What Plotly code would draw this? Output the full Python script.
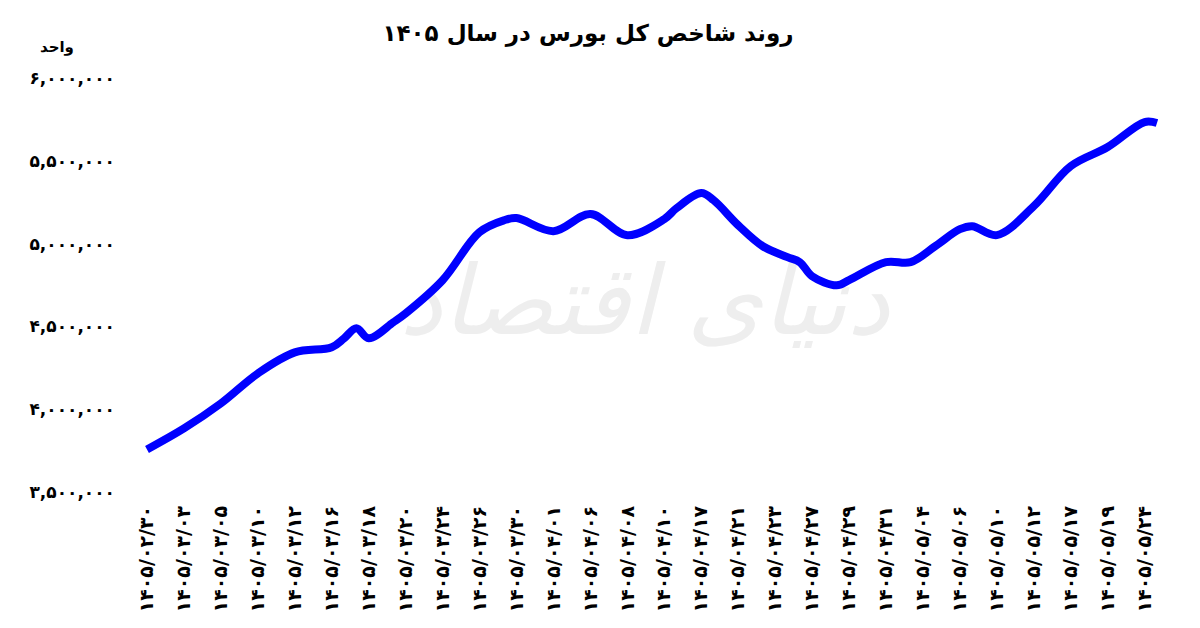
import plotly.graph_objects as go

# tick labels (every 3rd trading day)
date_labels = [
    "۱۴۰۵/۰۲/۳۰", "۱۴۰۵/۰۳/۰۳", "۱۴۰۵/۰۳/۰۵", "۱۴۰۵/۰۳/۱۰", "۱۴۰۵/۰۳/۱۲",
    "۱۴۰۵/۰۳/۱۶", "۱۴۰۵/۰۳/۱۸", "۱۴۰۵/۰۳/۲۰", "۱۴۰۵/۰۳/۲۴", "۱۴۰۵/۰۳/۲۶",
    "۱۴۰۵/۰۳/۳۰", "۱۴۰۵/۰۴/۰۱", "۱۴۰۵/۰۴/۰۶", "۱۴۰۵/۰۴/۰۸", "۱۴۰۵/۰۴/۱۰",
    "۱۴۰۵/۰۴/۱۷", "۱۴۰۵/۰۴/۲۱", "۱۴۰۵/۰۴/۲۳", "۱۴۰۵/۰۴/۲۷", "۱۴۰۵/۰۴/۲۹",
    "۱۴۰۵/۰۴/۳۱", "۱۴۰۵/۰۵/۰۴", "۱۴۰۵/۰۵/۰۶", "۱۴۰۵/۰۵/۱۰", "۱۴۰۵/۰۵/۱۲",
    "۱۴۰۵/۰۵/۱۷", "۱۴۰۵/۰۵/۱۹", "۱۴۰۵/۰۵/۲۴",
]
label_day_index = [i * 3 for i in range(len(date_labels))]

# trading-day index and index value
day_index = [0, 3, 6, 9, 12, 15, 16, 17, 18, 20, 21, 24, 27, 29, 30, 33, 36, 39,
             42, 43, 45, 46, 48, 50, 52, 53, 54, 56, 57, 60, 62, 64, 66, 67, 69,
             72, 75, 78, 81, 82]
index_value = [3757000, 3884000, 4035000, 4216000, 4343000, 4374000, 4428000,
               4489000, 4428000, 4525000, 4579000, 4779000, 5069000, 5141000,
               5154000, 5075000, 5178000, 5051000, 5148000, 5214000, 5305000,
               5262000, 5111000, 4984000, 4918000, 4888000, 4803000, 4748000,
               4779000, 4888000, 4888000, 4985000, 5087000, 5105000, 5051000,
               5226000, 5468000, 5583000, 5734000, 5728000]

y_tick_vals = [3500000, 4000000, 4500000, 5000000, 5500000, 6000000]
y_tick_text = ["۳,۵۰۰,۰۰۰", "۴,۰۰۰,۰۰۰", "۴,۵۰۰,۰۰۰", "۵,۰۰۰,۰۰۰", "۵,۵۰۰,۰۰۰", "۶,۰۰۰,۰۰۰"]

title_text = "روند شاخص کل بورس در سال ۱۴۰۵"
unit_text = "واحد"
watermark_text = "دنیای اقتصاد"

FONT = "DejaVu Sans"

fig = go.Figure()

# watermark (drawn beneath the line)
fig.add_trace(go.Scatter(
    x=[40.4], y=[4600000], mode="text", text=[watermark_text],
    textfont=dict(family=FONT, size=96, color="#eeeeee", style="italic"),
    hoverinfo="skip", showlegend=False,
))

fig.add_trace(go.Scatter(
    x=day_index, y=index_value, mode="lines",
    line=dict(color="#0000ff", width=8, shape="spline", smoothing=1.0),
    showlegend=False,
))

fig.update_layout(
    width=1200, height=628,
    paper_bgcolor="white", plot_bgcolor="white",
    margin=dict(l=125, r=20, t=78, b=136, autoexpand=False),
    title=dict(text="<b>" + title_text + "</b>", x=0.49, xanchor="center",
               y=0.947, yanchor="middle",
               font=dict(family=FONT, size=23, color="black")),
    xaxis=dict(range=[-1.786, 83.87], tickmode="array", tickvals=label_day_index,
               ticktext=["<b>" + t + "</b>" for t in date_labels], tickangle=-90,
               showgrid=False, zeroline=False, showline=False, ticks="",
               automargin=False, ticklabelstandoff=9,
               tickfont=dict(family=FONT, size=19, color="black")),
    yaxis=dict(range=[3500000, 6000000], tickmode="array", tickvals=y_tick_vals,
               ticktext=["<b>" + t + "</b>" for t in y_tick_text],
               showgrid=False, zeroline=False, showline=False, ticks="",
               automargin=False, ticklabelstandoff=9,
               tickfont=dict(family=FONT, size=17, color="black")),
    annotations=[dict(text="<b>" + unit_text + "</b>", xref="paper", yref="paper",
                      x=-0.0645, y=1.075, xanchor="center", yanchor="middle",
                      showarrow=False, font=dict(family=FONT, size=15, color="black"))],
)

fig.write_html("out.html", config={"displayModeBar": False},
               post_script="document.body.style.margin='0';")
